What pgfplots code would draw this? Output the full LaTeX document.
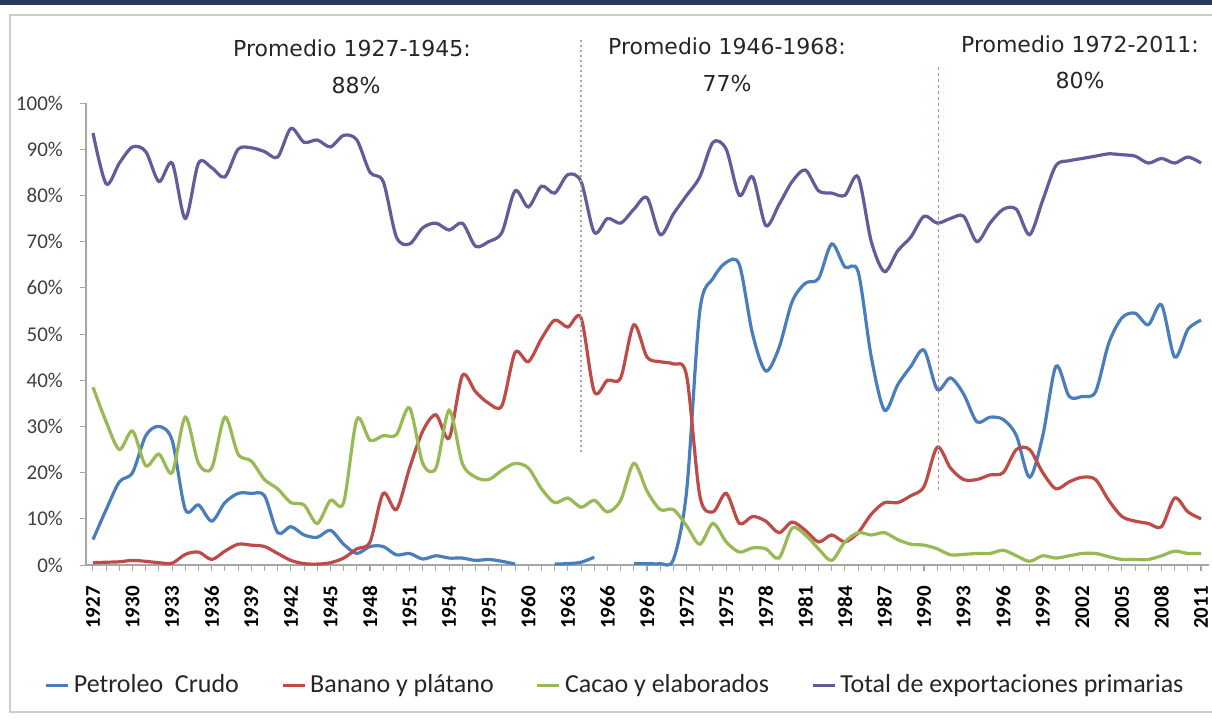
\documentclass[border=0pt]{standalone}
\usepackage{pgfplots}
\pgfplotsset{compat=1.18}
\usepackage{pgfplotstable}
\usepackage{fontspec}
\setmainfont{Carlito}
\newfontfamily\annfont{DejaVu Sans}
\definecolor{cPet}{HTML}{4A7EBB}
\definecolor{cBan}{HTML}{BE4B48}
\definecolor{cCac}{HTML}{98B954}
\definecolor{cTot}{HTML}{675A9A}
\definecolor{cNavy}{HTML}{2B3A5C}

\pgfplotstableread{
year pet ban cac tot
1927 5.5 0.5 38.5 93.5
1928 12 0.6 31 82.5
1929 18 0.7 25 87
1930 20 1.0 29 90.5
1931 28 0.8 21.5 89.5
1932 30 0.5 24 83
1933 27 0.4 20 87
1934 12 2.3 32 75
1935 13 2.8 22 87
1936 9.5 1.2 21 86
1937 13.5 3.0 32 84
1938 15.5 4.5 24 90
1939 15.5 4.3 22.5 90.3
1940 15 4.0 18.5 89.5
1941 7 2.5 16.5 88.3
1942 8.3 1.0 13.5 94.5
1943 6.5 0.3 13 91.5
1944 6 0.2 9 92
1945 7.5 0.5 14 90.5
1946 4.5 1.5 13.5 93
1947 2.5 3.5 31.5 92
1948 4 5 27 85
1949 4 15.5 28 83
1950 2.2 12 28.2 71
1951 2.5 21 34 69.5
1952 1.3 29 22 73
1953 2 32.5 21 74
1954 1.5 27.5 33.5 72.5
1955 1.5 41 22 74
1956 1 37.5 19 69
1957 1.2 35 18.5 70
1958 0.8 34.5 20.5 72
1959 0.2 46 22 81
1960 nan 44 21 77.5
1961 nan 49 16.5 82
1962 0.2 53 13.5 80.5
1963 0.3 51.5 14.5 84.5
1964 0.6 53.5 12.5 83
1965 1.7 37.5 14 72
1966 nan 40 11.5 75
1967 nan 40.5 14 74
1968 0.3 52 22 77
1969 0.3 45 16 79.5
1970 0.3 44 12 71.5
1971 1.2 43.5 12 76
1972 16 41 8.5 80
1973 55 15 4.5 84
1974 62 11.5 9 91.5
1975 65.5 15.5 5 90
1976 65 9 2.8 80
1977 50 10.5 3.7 84
1978 42 9.5 3.5 73.5
1979 47 7 1.5 78
1980 57 9.3 8 83
1981 61 7.5 6.5 85.5
1982 62 5 3.5 81
1983 69.5 6.5 1 80.5
1984 64.5 5 5 80
1985 63.5 7 7 84
1986 45 11 6.5 70
1987 33.5 13.5 7 63.5
1988 39 13.5 5.5 68
1989 43 15 4.5 71
1990 46.5 17 4.3 75.5
1991 38 25.5 3.5 74
1992 40.5 21 2.2 75
1993 37 18.5 2.3 75.5
1994 31 18.5 2.5 70
1995 32 19.5 2.5 74
1996 31.5 20 3.2 77
1997 28 25 2 77
1998 19 25 0.8 71.5
1999 28 20 2 79
2000 43 16.5 1.5 86.5
2001 36.5 18 2 87.5
2002 36.5 19 2.5 88
2003 37.5 18.5 2.5 88.5
2004 48 14 1.8 89
2005 53.5 10.5 1.2 88.8
2006 54.5 9.5 1.2 88.5
2007 52 9 1.2 87
2008 56.3 8.3 2 88
2009 45 14.5 3 87
2010 51 11.5 2.5 88.3
2011 53 10 2.5 87
}\datatable

\begin{document}
\begin{tikzpicture}
\fill[white] (0pt,0pt) rectangle (606pt,-360pt);
\fill[cNavy] (0pt,0pt) rectangle (606pt,-2.5pt);
\draw[gray!40, line width=1pt] (606pt,-7.5pt) -- (5pt,-7.5pt) -- (5pt,-356pt) -- (606pt,-356pt);
\begin{axis}[
  at={(43pt,-282.5pt)}, anchor=south west,
  scale only axis, width=561.5pt, height=231pt,
  xmin=1926.47, xmax=2011.6, ymin=0, ymax=100,
  axis lines*=left,
  axis line style={gray!70, line width=0.6pt},
  clip=false,
  unbounded coords=jump,
  /pgf/number format/assume math mode=true,
  tick align=outside,
  major tick length=3pt, minor tick length=3pt,
  every tick/.style={gray!70, line width=0.5pt},
  ytick={0,10,...,100},
  yticklabels={0\%,10\%,20\%,30\%,40\%,50\%,60\%,70\%,80\%,90\%,100\%},
  yticklabel style={font=\fontsize{10.5}{12}\selectfont, text=black!75},
  yticklabel shift=5pt,
  xtick={1927,1930,...,2011},
  minor xtick={1927,...,2011},
  xticklabel style={/pgf/number format/1000 sep={}, rotate=90, anchor=east,
    font=\bfseries\fontsize{10.5}{12}\selectfont, text=black},
  xticklabel shift=4pt,
  legend columns=4,
  legend style={at={(0.472,-0.26)}, anchor=center, draw=none, fill=none,
    font=\fontsize{13}{15}\selectfont, text=black!85,
    /tikz/every even column/.append style={column sep=19pt}},
  legend cell align=left,
  legend image code/.code={\draw[#1] (0pt,0pt) -- (11pt,0pt);},
]
\addplot[cPet, line width=1.6pt, smooth, tension=0.5] table[x=year,y=pet]{\datatable};
\addplot[cBan, line width=1.6pt, smooth, tension=0.5] table[x=year,y=ban]{\datatable};
\addplot[cCac, line width=1.6pt, smooth, tension=0.5] table[x=year,y=cac]{\datatable};
\addplot[cTot, line width=1.6pt, smooth, tension=0.5] table[x=year,y=tot]{\datatable};
\legend{Petroleo\ \ Crudo, Banano y plátano, Cacao y elaborados, Total de exportaciones primarias}
\draw[gray!70, line width=0.8pt, dash pattern=on 1pt off 1.5pt] (axis cs:1964,24.5) -- (axis cs:1964,113.6);
\draw[cBan!70, line width=0.8pt, dash pattern=on 1.5pt off 1.5pt] (axis cs:1991.1,16.2) -- (axis cs:1991.1,107.8);
\end{axis}
\node[font=\annfont\fontsize{11}{13}\selectfont, text=black!85] at (176pt,-24pt) {Promedio 1927-1945:};
\node[font=\annfont\fontsize{11}{13}\selectfont, text=black!85] at (178pt,-42.5pt) {88\%};
\node[font=\annfont\fontsize{11}{13}\selectfont, text=black!85] at (363.5pt,-23pt) {Promedio 1946-1968:};
\node[font=\annfont\fontsize{11}{13}\selectfont, text=black!85] at (363.5pt,-41.5pt) {77\%};
\node[font=\annfont\fontsize{11}{13}\selectfont, text=black!85] at (540pt,-22pt) {Promedio 1972-2011:};
\node[font=\annfont\fontsize{11}{13}\selectfont, text=black!85] at (540pt,-40pt) {80\%};
\pgfresetboundingbox
\useasboundingbox (0pt,0pt) rectangle (606pt,-360pt);
\end{tikzpicture}
\end{document}
